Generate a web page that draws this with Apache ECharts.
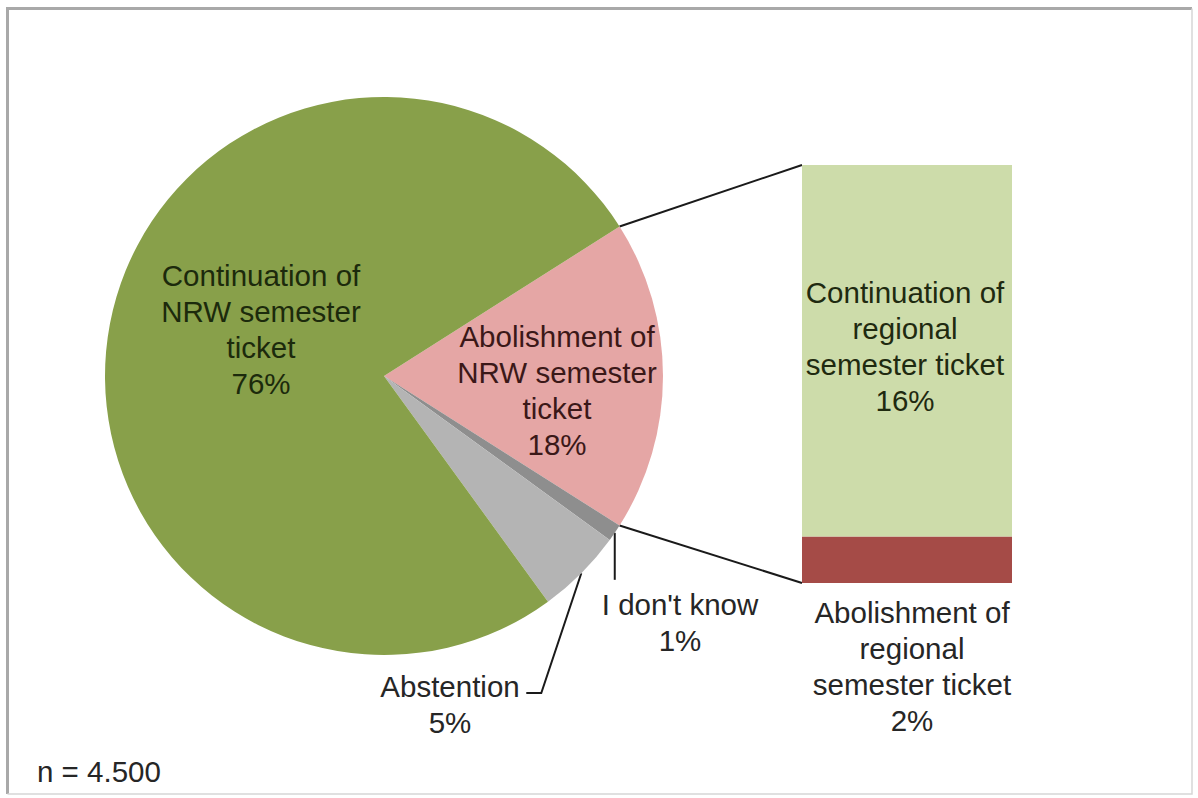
<!DOCTYPE html>
<html><head><meta charset="utf-8">
<script src="https://cdn.jsdelivr.net/npm/echarts@6/dist/echarts.min.js"></script>
<style>html,body{margin:0;padding:0;background:#fff}#c{width:1198px;height:798px}</style>
</head><body><div id="c"></div>
<script>
// ---- data ----
const pieNames = ['Abolishment of\nNRW semester\nticket', "I don't know", 'Abstention', 'Continuation of\nNRW semester\nticket'];
const pieValues = [18, 1, 5, 76];
const barCategory = ['regional'];
const barNames = ['Abolishment of\nregional\nsemester ticket', 'Continuation of\nregional\nsemester ticket'];
const barValues = [2, 16];
const sampleNote = 'n = 4.500';

// ---- styles / layout ----
const FONT = '"Liberation Sans", Arial, sans-serif';
const FS = 29.5, LH = 36;
const pieColors = ['#e5a6a5', '#8e8e8e', '#b4b4b4', '#88a04a'];
const pieTextColors = ['#3b1818', '#262626', '#262626', '#1c2a0c'];
const barColors = ['#a54b47', '#cddcaa'];
const CX = 384, CY = 376, R = 279;
const startAngle = pieValues[0] / 100 * 360 / 2;
const barTotal = barValues.reduce((a, b) => a + b, 0);

function midPoint(i) {
  let cum = 0;
  for (let k = 0; k < i; k++) cum += pieValues[k];
  const a = (startAngle - 360 * (cum + pieValues[i] / 2) / 100) * Math.PI / 180;
  return [CX + R * Math.cos(a), CY - R * Math.sin(a)];
}

const labelPos = {
  0: [CX + 173, CY + 14],
  1: [680, 622],
  2: [450, 704],
  3: [CX - 123, CY - 47]
};

const chart = echarts.init(document.getElementById('c'), null, {renderer: 'svg'});

const option = {
  animation: false,
  backgroundColor: '#fff',
  textStyle: {fontFamily: FONT},
  grid: {left: 802, top: 165, width: 210, height: 418},
  xAxis: {type: 'category', data: barCategory, show: false},
  yAxis: {type: 'value', min: 0, max: barTotal, show: false, splitLine: {show: false}},
  series: [
    {
      type: 'pie', center: [CX, CY], radius: R, startAngle: startAngle, clockwise: true,
      avoidLabelOverlap: false, silent: true,
      data: pieNames.map((n, i) => {
        const inside = (i === 0 || i === 3);
        return {
          name: n, value: pieValues[i],
          itemStyle: {color: pieColors[i]},
          label: {position: inside ? 'inside' : 'outside', color: pieTextColors[i]},
          labelLine: {show: !inside, lineStyle: {color: '#1a1a1a', width: 2}}
        };
      }),
      label: {
        show: true, formatter: p => p.name + '\n' + p.value + '%',
        fontFamily: FONT, fontSize: FS, lineHeight: LH, align: 'center'
      },
      labelLine: {length: 20, length2: 10},
      labelLayout: function (p) {
        const i = p.dataIndex;
        const pos = labelPos[i];
        const out = {x: pos[0], y: pos[1], align: 'center', verticalAlign: 'middle'};
        if (i === 1) {
          const p0 = midPoint(1);
          out.labelLinePoints = [p0, [p0[0], p0[1] + 47], [p0[0], p0[1] + 47]];
        } else if (i === 2) {
          const p0 = midPoint(2);
          const yl = pos[1] - 11;
          out.labelLinePoints = [p0, [p0[0] - 40, yl], [p0[0] - 55, yl]];
        }
        return out;
      }
    },
    {
      type: 'bar', stack: 'reg', name: barNames[0], data: [barValues[0]],
      barWidth: '100%', itemStyle: {color: barColors[0]}, silent: true,
      label: {show: true, position: 'bottom', distance: 11, offset: [5, 0],
        formatter: p => barNames[0] + '\n' + p.value + '%',
        fontFamily: FONT, fontSize: FS, lineHeight: LH, color: '#262626', align: 'center'}
    },
    {
      type: 'bar', stack: 'reg', name: barNames[1], data: [barValues[1]],
      barWidth: '100%', itemStyle: {color: barColors[1]}, silent: true,
      label: {show: true, position: 'inside', offset: [-2, -4],
        formatter: p => barNames[1] + '\n' + p.value + '%',
        fontFamily: FONT, fontSize: FS, lineHeight: LH, color: '#1f2a10', align: 'center'}
    }
  ]
};
chart.setOption(option);

// connector lines between the pie's broken-out slice and the bar
let gridRect;
try { gridRect = chart.getModel().getComponent('grid', 0).coordinateSystem.getRect(); }
catch (e) { gridRect = {x: 802, y: 165, width: 210, height: 418}; }
const yTop = chart.convertToPixel({gridIndex: 0}, [0, barTotal])[1];
const yBot = chart.convertToPixel({gridIndex: 0}, [0, 0])[1];
const a1 = startAngle * Math.PI / 180;
const a2 = (startAngle - 360 * pieValues[0] / 100) * Math.PI / 180;
const e1 = [CX + R * Math.cos(a1), CY - R * Math.sin(a1)];
const e2 = [CX + R * Math.cos(a2), CY - R * Math.sin(a2)];

chart.setOption({
  graphic: [
    {type: 'line', shape: {x1: e1[0], y1: e1[1], x2: gridRect.x, y2: yTop}, style: {stroke: '#1a1a1a', lineWidth: 2}, silent: true},
    {type: 'line', shape: {x1: e2[0], y1: e2[1], x2: gridRect.x, y2: yBot}, style: {stroke: '#1a1a1a', lineWidth: 2}, silent: true},
    {type: 'polyline', shape: {points: [[7.5, 794], [7.5, 8.5], [1192, 8.5]]}, style: {stroke: '#a9a9a9', lineWidth: 3, fill: null}, silent: true},
    {type: 'polyline', shape: {points: [[1192, 8.5], [1192, 794], [7.5, 794]]}, style: {stroke: '#d6d6d6', lineWidth: 1.5, fill: null}, silent: true},
    {type: 'text', x: 37, y: 771, silent: true,
      style: {text: sampleNote, font: FS + 'px ' + FONT, fill: '#262626', verticalAlign: 'middle', align: 'left'}}
  ]
});
</script>
</body></html>
